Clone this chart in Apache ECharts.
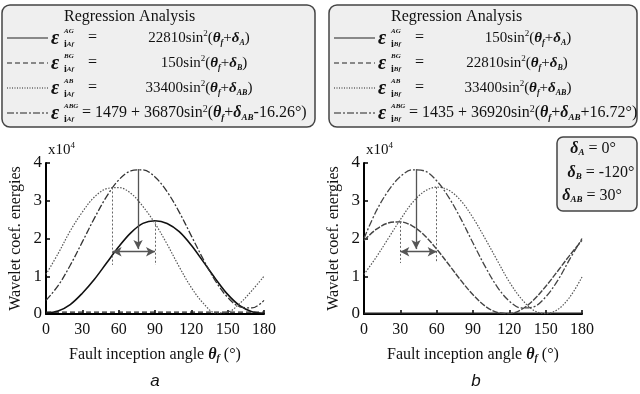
<!DOCTYPE html>
<html>
<head>
<meta charset="utf-8">
<script src="https://cdn.jsdelivr.net/npm/echarts@6/dist/echarts.min.js"></script>
<style>
  html, body { margin: 0; padding: 0; background: #fff; }
  #chart { width: 640px; height: 394px; }
</style>
</head>
<body>
<div id="chart"></div>
<script>
  // fault inception angle, degrees
  var angles = [0, 10, 20, 30, 40, 50, 60, 70, 80, 90, 100, 110, 120, 130, 140, 150, 160, 170, 180]
  var xTicks = [0, 30, 60, 90, 120, 150, 180]
  var yTicks = [0, 1, 2, 3, 4]

  // (a) energies, x10^4
  var aAG = [0.03, 0.08, 0.25, 0.55, 0.92, 1.35, 1.78, 2.15, 2.40, 2.47, 2.40, 2.18, 1.82, 1.38, 0.93, 0.52, 0.22, 0.06, 0.02]
  var aBG = [0.05, 0.05, 0.05, 0.05, 0.05, 0.05, 0.05, 0.05, 0.05, 0.05, 0.05, 0.05, 0.05, 0.05, 0.05, 0.05, 0.05, 0.05, 0.05]
  var aAB = [1.05, 1.6, 2.2, 2.7, 3.1, 3.32, 3.35, 3.2, 2.85, 2.4, 1.85, 1.25, 0.7, 0.28, 0.03, 0.05, 0.28, 0.62, 1.0]
  var aABG = [0.36, 0.75, 1.29, 1.91, 2.54, 3.11, 3.55, 3.79, 3.82, 3.63, 3.24, 2.70, 2.07, 1.44, 0.87, 0.44, 0.19, 0.16, 0.36]

  // (b) energies, x10^4
  var bAG = [0.02, 0.02, 0.02, 0.02, 0.02, 0.02, 0.02, 0.02, 0.02, 0.02, 0.02, 0.02, 0.02, 0.02, 0.02, 0.02, 0.02, 0.02, 0.02]
  var bBG = [1.95, 2.24, 2.41, 2.44, 2.33, 2.08, 1.72, 1.31, 0.89, 0.51, 0.21, 0.04, 0.01, 0.12, 0.37, 0.73, 1.14, 1.56, 1.95]
  var bAB = [1.05, 1.5, 2.0, 2.5, 2.95, 3.25, 3.36, 3.28, 3.0, 2.55, 2.0, 1.42, 0.85, 0.4, 0.1, 0.01, 0.12, 0.45, 0.98]
  var bABG = [2.0, 2.72, 3.26, 3.64, 3.82, 3.79, 3.53, 3.09, 2.52, 1.88, 1.26, 0.72, 0.34, 0.16, 0.19, 0.45, 0.89, 1.46, 2.0]

  // peak markers: [angle, top, bottom]
  var aDrops = [[55, 3.35, 1.3], [90, 2.47, 1.3]]
  var aArrow = [76, 3.84, 1.72]
  var aSpan = [55, 90, 1.65]
  var bDrops = [[30, 2.44, 1.35], [60, 3.36, 1.35]]
  var bArrow = [43, 3.84, 1.72]
  var bSpan = [30, 60, 1.65]

  var serif = "'Liberation Serif', 'DejaVu Serif', serif"
  var ink = '#111'

  function pts(vals) {
    return angles.map(function (a, i) { return [a, vals[i]] })
  }

  function curve(name, vals, idx, type, color, width) {
    return {
      name: name,
      type: 'line',
      xAxisIndex: idx,
      yAxisIndex: idx,
      data: pts(vals),
      smooth: 0.35,
      symbol: 'none',
      lineStyle: { color: color, width: width, type: type },
      z: 3,
    }
  }

  function marks(idx, drops, arrow, span) {
    var lines = drops.map(function (d) {
      return [{ coord: [d[0], d[1]], symbol: 'none' }, { coord: [d[0], d[2]], symbol: 'none' }]
    })
    return [
      {
        type: 'line', xAxisIndex: idx, yAxisIndex: idx, data: [], silent: true,
        markLine: {
          silent: true, animation: false, label: { show: false },
          lineStyle: { color: '#666', width: 1, type: [2, 2] },
          data: lines,
        },
      },
      {
        type: 'line', xAxisIndex: idx, yAxisIndex: idx, data: [], silent: true,
        markLine: {
          silent: true, animation: false, label: { show: false },
          symbolSize: [7, 9],
          lineStyle: { color: '#555', width: 1.3, type: 'solid' },
          data: [
            [{ coord: [arrow[0], arrow[1]], symbol: 'none' }, { coord: [arrow[0], arrow[2]], symbol: 'arrow' }],
            [{ coord: [span[0], span[2]], symbol: 'arrow' }, { coord: [span[1], span[2]], symbol: 'arrow' }],
          ],
        },
      },
    ]
  }

  function xAx(idx) {
    return {
      type: 'value', gridIndex: idx, min: 0, max: 180, interval: 30,
      name: 'Fault inception angle {th|θ}{f|f}{n| (°)}',
      nameLocation: 'middle', nameGap: 33,
      nameTextStyle: {
        fontFamily: serif, fontSize: 16, color: ink,
        rich: {
          n: { fontFamily: serif, fontSize: 16, color: ink },
          th: { fontFamily: serif, fontSize: 16, fontStyle: 'italic', fontWeight: 'bold', color: ink },
          f: { fontFamily: serif, fontSize: 10, fontStyle: 'italic', fontWeight: 'bold', color: ink, verticalAlign: 'bottom', padding: [6, 0, 0, 0] },
        },
      },
      axisLine: { show: true, onZero: false, lineStyle: { color: '#000', width: 2 } },
      axisTick: { show: true, inside: true, length: 4, lineStyle: { color: '#000', width: 1.5 } },
      axisLabel: { fontFamily: serif, fontSize: 16, color: ink, margin: 8 },
      splitLine: { show: false },
    }
  }

  function yAx(idx) {
    return {
      type: 'value', gridIndex: idx, min: 0, max: 4, interval: 1,
      name: 'Wavelet coef. energies',
      nameLocation: 'middle', nameGap: 22, nameRotate: 90,
      nameTextStyle: { fontFamily: serif, fontSize: 16, color: ink },
      axisLine: { show: true, onZero: false, lineStyle: { color: '#000', width: 2 } },
      axisTick: { show: true, inside: true, length: 4, lineStyle: { color: '#000', width: 1.5 } },
      axisLabel: { fontFamily: serif, fontSize: 17, color: ink, margin: 4 },
      splitLine: { show: false },
    }
  }

  var richF = {
    n: { fontFamily: serif, fontSize: 15, color: ink },
    it: { fontFamily: serif, fontSize: 15, fontStyle: 'italic', fontWeight: 'bold', color: ink },
    sup: { fontFamily: serif, fontSize: 9, color: ink, verticalAlign: 'top', padding: [0, 0, 8, 0] },
    sub: { fontFamily: serif, fontSize: 8, fontStyle: 'italic', fontWeight: 'bold', color: ink, verticalAlign: 'bottom', padding: [6, 0, 0, 0] },
  }
  var richBig = {
    n: { fontFamily: serif, fontSize: 16, color: ink },
    it: { fontFamily: serif, fontSize: 16, fontStyle: 'italic', fontWeight: 'bold', color: ink },
    sup: { fontFamily: serif, fontSize: 10, color: ink, verticalAlign: 'top', padding: [0, 0, 8, 0] },
    sub: { fontFamily: serif, fontSize: 9, fontStyle: 'italic', fontWeight: 'bold', color: ink, verticalAlign: 'bottom', padding: [6, 0, 0, 0] },
  }

  function sinTerm(coef, delta, tail) {
    return '{n|' + coef + 'sin}{sup|2}{n|(}{it|θ}{sub|f}{n|+}{it|δ}{sub|' + delta + '}{n|' + (tail || '') + ')}'
  }

  function txt(x, y, s, align, extra) {
    var st = { x: x, y: y, text: s, fontFamily: serif, fontSize: 15, fill: ink, align: align || 'left', verticalAlign: 'middle', rich: richF }
    if (extra) for (var k in extra) st[k] = extra[k]
    return { type: 'text', style: st, z: 10 }
  }

  function legendBox(x0, w, names, formulas, row4) {
    var els = []
    els.push({ type: 'rect', shape: { x: x0, y: 5, width: w, height: 122, r: 8 }, style: { fill: '#efefef', stroke: '#444', lineWidth: 1.5 }, z: 5 })
    els.push(txt(x0 + 62, 17, 'Regression Analysis', 'left', { fontSize: 16 }))
    var rows = [38, 63, 88, 113]
    var dashes = [null, [5, 3], [1, 1.5], [7, 2, 2, 2]]
    rows.forEach(function (y, i) {
      els.push({ type: 'line', shape: { x1: x0 + 5, y1: y, x2: x0 + 46, y2: y }, style: { stroke: '#222', lineWidth: 1.2, lineDash: dashes[i] }, z: 10 })
      els.push(txt(x0 + 49, y + 1, 'ε', 'left', { fontSize: 20, fontStyle: 'italic', fontWeight: 'bold' }))
      els.push(txt(x0 + 62, y - 7, names[i], 'left', { fontSize: 7, fontStyle: 'italic', fontWeight: 'bold' }))
      els.push(txt(x0 + 62, y + 6, '{i|i}{s|' + names.sub + '}', 'left', { rich: { i: { fontFamily: serif, fontSize: 10, fontWeight: 'bold', color: ink }, s: { fontFamily: serif, fontSize: 7, fontStyle: 'italic', fontWeight: 'bold', color: ink } } }))
      if (i < 3) {
        els.push(txt(x0 + 86, y, '=', 'left', { fontSize: 16 }))
        els.push(txt(x0 + formulas.cx[i], y, formulas[i], 'center'))
      } else {
        els.push(txt(x0 + 80, y, row4, 'left', { rich: richBig }))
      }
    })
    return els
  }

  var namesA = ['AG', 'BG', 'AB', 'ABG']; namesA.sub = 'Af'
  var namesB = ['AG', 'BG', 'AB', 'ABG']; namesB.sub = 'Bf'
  var formA = [sinTerm(22810, 'A'), sinTerm(150, 'B'), sinTerm(33400, 'AB')]; formA.cx = [197, 202, 197]
  var formB = [sinTerm(150, 'A'), sinTerm(22810, 'B'), sinTerm(33400, 'AB')]; formB.cx = [199, 188, 189]
  var row4A = '{n|= 1479 + 36870sin}{sup|2}{n|(}{it|θ}{sub|f}{n|+}{it|δ}{sub|AB}{n|-16.26°)}'
  var row4B = '{n|= 1435 + 36920sin}{sup|2}{n|(}{it|θ}{sub|f}{n|+}{it|δ}{sub|AB}{n|+16.72°)}'

  var sup4 = { n: { fontFamily: serif, fontSize: 15, color: ink }, sup: { fontFamily: serif, fontSize: 9, color: ink, verticalAlign: 'top', padding: [0, 0, 8, 0] } }

  var graphics = []
    .concat(legendBox(2, 313, namesA, formA, row4A))
    .concat(legendBox(329, 308, namesB, formB, row4B))
  graphics.push({ type: 'rect', shape: { x: 557, y: 137, width: 80, height: 74, r: 6 }, style: { fill: '#efefef', stroke: '#444', lineWidth: 1.5 }, z: 5 })
  graphics.push(txt(593, 149, '{it|δ}{sub|A}{n| = 0°}', 'center', { rich: richBig }))
  graphics.push(txt(601, 173, '{it|δ}{sub|B}{n| = -120°}', 'center', { rich: richBig }))
  graphics.push(txt(592, 196, '{it|δ}{sub|AB}{n| = 30°}', 'center', { rich: richBig }))
  graphics.push(txt(48, 150, '{n|x10}{sup|4}', 'left', { rich: sup4 }))
  graphics.push(txt(366, 150, '{n|x10}{sup|4}', 'left', { rich: sup4 }))
  graphics.push({ type: 'text', style: { x: 155, y: 381, text: 'a', fontFamily: "'Liberation Sans', Arial, sans-serif", fontSize: 17, fontStyle: 'italic', fill: ink, align: 'center', verticalAlign: 'middle' } })
  graphics.push({ type: 'text', style: { x: 476, y: 381, text: 'b', fontFamily: "'Liberation Sans', Arial, sans-serif", fontSize: 17, fontStyle: 'italic', fill: ink, align: 'center', verticalAlign: 'middle' } })

  var chart = echarts.init(document.getElementById('chart'))
  chart.setOption({
    animation: false,
    backgroundColor: '#fff',
    grid: [
      { left: 46, top: 163, width: 218, height: 151 },
      { left: 364, top: 163, width: 218, height: 151 },
    ],
    xAxis: [xAx(0), xAx(1)],
    yAxis: [yAx(0), yAx(1)],
    graphic: graphics,
    series: [
      curve('AG', aAG, 0, 'solid', '#111', 1.6),
      curve('BG', aBG, 0, [5, 3], '#222', 1.4),
      curve('AB', aAB, 0, [1.5, 1.5], '#555', 1.2),
      curve('ABG', aABG, 0, [7, 2, 2, 2], '#333', 1.3),
      curve('AG', bAG, 1, 'solid', '#222', 1.4),
      curve('BG', bBG, 1, [6, 1.5], '#444', 1.4),
      curve('AB', bAB, 1, [1.5, 1.5], '#555', 1.2),
      curve('ABG', bABG, 1, [7, 2, 2, 2], '#444', 1.3),
    ]
      .concat(marks(0, aDrops, aArrow, aSpan))
      .concat(marks(1, bDrops, bArrow, bSpan)),
  })
</script>
</body>
</html>
